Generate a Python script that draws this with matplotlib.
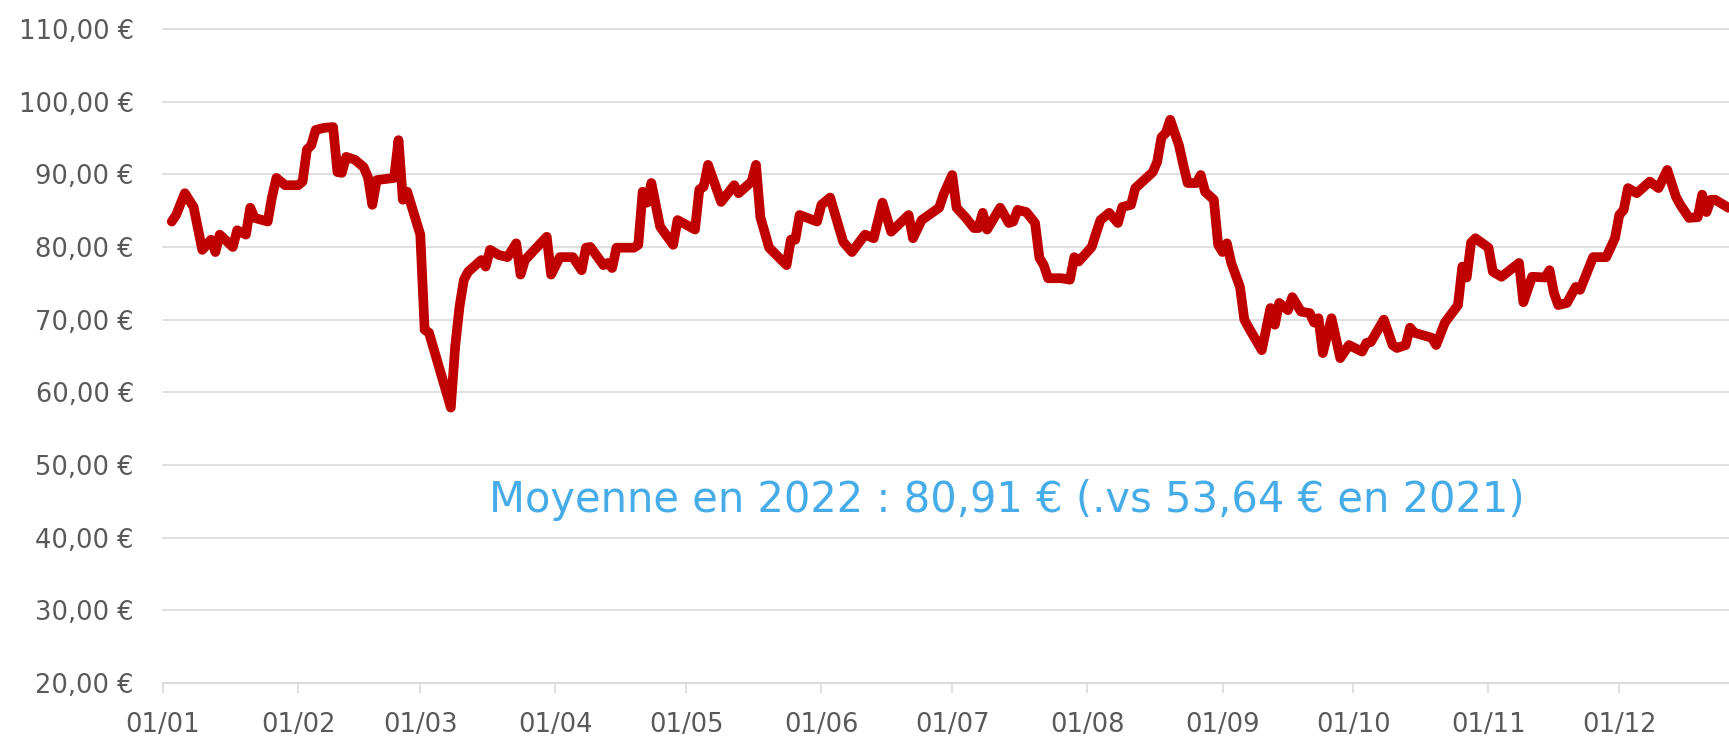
import matplotlib
matplotlib.use("Agg")
import matplotlib.pyplot as plt
import matplotlib.dates as mdates
import matplotlib.ticker as ticker
import pandas as pd

# day offset from 2022-01-01 and price in EUR
day = [2, 3, 5, 7, 9, 11, 12, 13, 16, 17, 19, 20, 21, 24, 25, 26, 28, 31,
       32, 33, 34, 35, 37, 39, 40, 41, 42, 44, 46, 47, 48, 49, 53, 54, 55, 56,
       58, 59, 60, 61, 66, 67, 68, 69, 70, 73, 74, 75, 77, 79, 81, 82, 83, 88,
       89, 91, 94, 96, 97, 98, 101, 102, 103, 104, 108, 109, 110, 111, 112,
       114, 117, 118, 122, 123, 124, 125, 128, 131, 132, 135, 136, 137, 139,
       143, 144, 145, 146, 150, 151, 153, 156, 158, 161, 163, 165, 167, 171,
       172, 174, 178, 179, 181, 182, 184, 186, 187, 188, 189, 192, 194, 195,
       196, 198, 200, 201, 202, 203, 206, 208, 209, 210, 213, 214, 215, 217,
       219, 220, 222, 223, 227, 228, 229, 230, 231, 233, 234, 235, 237, 238,
       239, 241, 242, 243, 244, 245, 247, 248, 249, 252, 254, 255, 256, 258,
       259, 261, 263, 264, 265, 266, 268, 270, 272, 275, 276, 277, 280, 282,
       283, 285, 286, 287, 291, 292, 294, 297, 298, 299, 300, 301, 304, 305,
       307, 311, 312, 314, 317, 318, 319, 320, 322, 324, 325, 327, 328, 331,
       333, 334, 335, 336, 338, 341, 343, 345, 347, 348, 350, 352, 353, 354,
       355, 356, 359]
price = [83.5, 84.4, 87.4, 85.5, 79.6, 81.0, 79.3, 81.7, 80.0, 82.3, 81.7,
         85.4, 84.0, 83.5, 86.9, 89.5, 88.5, 88.5, 89.0, 93.4, 94.0, 96.1,
         96.4, 96.5, 90.3, 90.2, 92.4, 92.0, 91.0, 89.6, 85.8, 89.2, 89.5,
         94.7, 86.5, 87.6, 83.7, 81.7, 68.6, 68.2, 57.9, 66.3, 71.8, 75.5,
         76.6, 78.2, 77.3, 79.6, 78.9, 78.6, 80.5, 76.2, 78.2, 81.4, 76.2,
         78.6, 78.6, 76.8, 79.9, 80.0, 77.5, 77.8, 77.1, 79.9, 79.9, 80.3,
         87.6, 86.1, 88.8, 82.8, 80.3, 83.7, 82.4, 87.9, 88.3, 91.3, 86.2,
         88.5, 87.4, 89.0, 91.3, 84.1, 79.9, 77.5, 81.0, 81.0, 84.4, 83.5,
         85.8, 86.8, 80.7, 79.3, 81.7, 81.2, 86.1, 82.1, 84.4, 81.2, 83.7,
         85.4, 87.2, 89.9, 85.4, 84.1, 82.6, 82.6, 84.7, 82.4, 85.4, 83.3,
         83.5, 85.1, 84.8, 83.3, 78.5, 77.5, 75.7, 75.7, 75.5, 78.6, 78.0,
         80.0, 81.9, 83.7, 84.7, 83.3, 85.5, 85.8, 88.1, 90.3, 91.7, 95.1,
         95.7, 97.5, 94.0, 91.3, 88.8, 88.8, 89.9, 87.6, 86.5, 80.3, 79.3,
         80.5, 77.8, 74.5, 70.0, 68.9, 65.8, 71.6, 69.3, 72.3, 71.3, 73.1,
         71.1, 70.9, 69.6, 70.2, 65.4, 70.2, 64.7, 66.5, 65.6, 66.8, 66.9,
         70.0, 66.5, 66.1, 66.5, 68.9, 68.2, 67.5, 66.5, 69.6, 72.0, 77.3,
         75.8, 80.6, 81.2, 79.9, 76.6, 75.9, 77.8, 72.4, 75.9, 75.8, 76.8,
         73.7, 72.0, 72.3, 74.5, 74.1, 77.1, 78.6, 78.6, 81.2, 84.4, 85.1,
         88.1, 87.4, 89.0, 88.1, 90.6, 86.9, 85.8, 84.0, 84.1, 87.2, 84.8,
         86.5, 86.5, 85.4]

y_ticks = [20, 30, 40, 50, 60, 70, 80, 90, 100, 110]
note = "Moyenne en 2022 : 80,91 € (.vs 53,64 € en 2021)"

dates = pd.Timestamp("2022-01-01") + pd.to_timedelta(day, unit="D")

fig = plt.figure(figsize=(17.29, 7.37), dpi=100)
# axes runs a little past the right edge, the reference is cut around late December
ax = fig.add_axes([0.0943, 0.0733, 0.9179, 0.8874])

ax.plot(dates, price, color="#C00000", linewidth=7,
        solid_joinstyle="round", solid_capstyle="round", zorder=3)

ax.set_xlim(pd.Timestamp("2022-01-01"), pd.Timestamp("2022-12-31"))
ax.set_ylim(20, 110)
ax.set_yticks(y_ticks)
ax.yaxis.set_major_formatter(
    ticker.FuncFormatter(lambda v, _: f"{v:.2f}".replace(".", ",") + " €"))
ax.xaxis.set_major_locator(mdates.MonthLocator())
ax.xaxis.set_major_formatter(mdates.DateFormatter("%d/%m"))

ax.grid(axis="y", color="#D9D9D9", linewidth=1.2)
ax.set_axisbelow(True)
for line in ax.get_ygridlines():
    line.set_clip_on(False)
for name, spine in ax.spines.items():
    spine.set_visible(name == "bottom")
ax.spines["bottom"].set_color("#D9D9D9")
ax.spines["bottom"].set_linewidth(1.2)

ax.tick_params(axis="y", length=0, pad=21, labelsize=18.5, labelcolor="#595959")
ax.tick_params(axis="x", length=7.2, width=1.2, color="#D9D9D9", pad=14,
               labelsize=18.5, labelcolor="#595959", direction="out")

fig.text(0.5821, 0.3057, note, ha="center", va="baseline",
         fontsize=30, color="#46ACE8")

fig.savefig("out.png", dpi=100)
